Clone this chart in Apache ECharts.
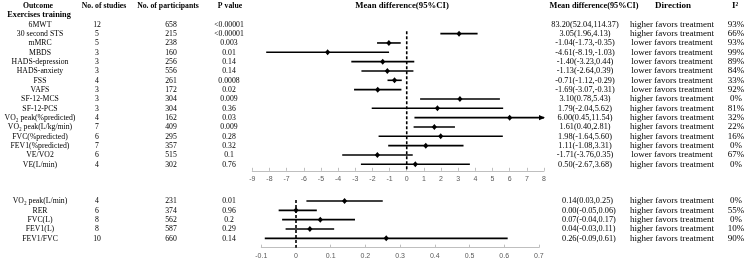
<!DOCTYPE html>
<html><head><meta charset="utf-8">
<script src="https://cdn.jsdelivr.net/npm/echarts@6/dist/echarts.min.js"></script>
<style>html,body{margin:0;padding:0;background:#fff}#c{width:747px;height:261px}</style>
</head><body><div id="c"></div>
<script>
// ---------- DATA ----------
const headers = ['Outcome','No. of studies','No. of participants','P value','Mean difference(95%CI)','Mean difference(95%CI)','Direction','I²'];
const sectionTitle = 'Exercises training';

const outcomesTop = ['6MWT','30 second STS','mMRC','MBDS','HADS-depression','HADS-anxiety','FSS','VAFS','SF-12-MCS','SF-12-PCS','VO₂ peak(%predicted)','VO₂ peak(L/kg/min)','FVC(%predicted)','FEV1(%predicted)','VE/VO2','VE(L/min)'];
const studiesTop = [12,5,5,3,3,3,4,3,3,3,4,7,6,7,6,4];
const participantsTop = [658,215,238,160,256,556,261,172,304,304,162,409,295,357,515,302];
const pTop = ['<0.00001','<0.00001','0.003','0.01','0.14','0.14','0.0008','0.02','0.009','0.36','0.03','0.009','0.28','0.32','0.1','0.76'];
const mdTop = [83.20,3.05,-1.04,-4.61,-1.40,-1.13,-0.71,-1.69,3.10,1.79,6.00,1.61,1.98,1.11,-1.71,0.50];
const loTop = [52.04,1.96,-1.73,-8.19,-3.23,-2.64,-1.12,-3.07,0.78,-2.04,0.45,0.40,-1.64,-1.08,-3.76,-2.67];
const hiTop = [114.37,4.13,-0.35,-1.03,0.44,0.39,-0.29,-0.31,5.43,5.62,11.54,2.81,5.60,3.31,0.35,3.68];
const directionTop = ['higher','higher','lower','lower','lower','lower','lower','lower','higher','higher','higher','higher','higher','higher','lower','higher'];
const i2Top = ['93%','66%','93%','99%','89%','84%','33%','92%','0%','81%','32%','22%','16%','0%','67%','0%'];
const ticksTop = {min:-9, max:8, interval:1};

const outcomesBottom = ['VO₂ peak(L/min)','RER','FVC(L)','FEV1(L)','FEV1/FVC'];
const studiesBottom = [4,6,8,8,10];
const participantsBottom = [231,374,562,587,660];
const pBottom = ['0.01','0.96','0.2','0.29','0.14'];
const mdBottom = [0.14,0.00,0.07,0.04,0.26];
const loBottom = [0.03,-0.05,-0.04,-0.03,-0.09];
const hiBottom = [0.25,0.06,0.17,0.11,0.61];
const directionBottom = ['higher','higher','higher','higher','higher'];
const i2Bottom = ['0%','55%','0%','10%','90%'];
const ticksBottom = {min:-0.1, max:0.7, interval:0.1};

// ---------- LAYOUT ----------
const FONT = '"Liberation Serif","Times New Roman",serif';
const FS = 9;
const SL = 0.86;   // horizontal squeeze of the left table text
const SR = 0.92;   // horizontal squeeze of the right mean-difference text
const col = {outcome:40, studies:97, participants:171, p:229, mdTop:585, mdBottom:562, dir:672, i2:736};
const hdrX = [38,104,168,230,402,594,673,735];
const hdrS = [SL,SL,SL,SL,0.97,SR,1,1];

const fmt = v => v.toFixed(2);
const ciText = (m,l,h) => fmt(m)+'('+fmt(l)+','+fmt(h)+')';
const dirText = d => d + ' favors treatment';

function tableItems(outcomes, studies, parts, ps, md, lo, hi, dirs, i2s, mdX, mdAlign) {
  const items = [];
  outcomes.forEach((o,i) => {
    items.push([col.outcome, i, o, false, 'center', SL]);
    items.push([col.studies, i, String(studies[i]), false, 'center', SL]);
    items.push([col.participants, i, String(parts[i]), false, 'center', SL]);
    items.push([col.p, i, ps[i], false, 'center', SL]);
    items.push([mdX, i, ciText(md[i],lo[i],hi[i]), false, mdAlign, SR]);
    items.push([col.dir, i, dirText(dirs[i]), false, 'center', 1]);
    items.push([col.i2, i, i2s[i], false, 'center', 1]);
  });
  return items;
}
const topItems = tableItems(outcomesTop, studiesTop, participantsTop, pTop, mdTop, loTop, hiTop, directionTop, i2Top, col.mdTop, 'center');
headers.forEach((h,k) => topItems.push([hdrX[k], -2, h, true, 'center', hdrS[k]]));
topItems.push([39, -1, sectionTitle, true, 'center', 0.92]);
const bottomItems = tableItems(outcomesBottom, studiesBottom, participantsBottom, pBottom, mdBottom, loBottom, hiBottom, directionBottom, i2Bottom, col.mdBottom, 'left');

function textSeries(items, axisIdx) {
  return {
    type:'custom', xAxisIndex:axisIdx, yAxisIndex:axisIdx, silent:true, clip:false,
    data: items.map(it => [it[0], it[1]]),
    renderItem: (params, api) => {
      const it = items[params.dataIndex];
      const p = api.coord([api.value(0), api.value(1)]);
      return {type:'text', x:p[0], y:p[1], scaleX: it[5] || 1, style:{
        text: it[2], fill:'#000', fontFamily: FONT, fontSize: FS,
        fontWeight: it[3] ? 'bold' : 'normal', align: it[4], verticalAlign:'middle'
      }};
    }
  };
}

function forestSeries(md, lo, hi, axisIdx) {
  return {
    type:'custom', xAxisIndex:axisIdx, yAxisIndex:axisIdx, silent:true, clip:false,
    data: md.map((m,i) => [m, lo[i], hi[i], i]),
    encode:{x:[0,1,2], y:3},
    renderItem: (params, api) => {
      const cs = params.coordSys;
      const row = api.value(3);
      const pm = api.coord([api.value(0), row]);
      const pl = api.coord([api.value(1), row]);
      const ph = api.coord([api.value(2), row]);
      const x0 = cs.x, x1 = cs.x + cs.width, y = pm[1];
      if (pl[0] > x1 || ph[0] < x0) return null;
      const a = Math.max(pl[0], x0), b = Math.min(ph[0], x1);
      const ch = [{type:'line', shape:{x1:a,y1:y,x2:b,y2:y}, style:{stroke:'#000', lineWidth:1.6}}];
      if (ph[0] > x1) ch.push({type:'polygon', shape:{points:[[x1+1,y],[x1-5,y-2.6],[x1-5,y+2.6]]}, style:{fill:'#000'}});
      if (pm[0] >= x0 && pm[0] <= x1) ch.push({type:'polygon', shape:{points:[[pm[0],y-3],[pm[0]+2.6,y],[pm[0],y+3],[pm[0]-2.6,y]]}, style:{fill:'#000'}});
      return {type:'group', children:ch};
    }
  };
}

function zeroLine(y0, y1, axisIdx) {
  return {type:'line', xAxisIndex:axisIdx, yAxisIndex:axisIdx, silent:true, symbol:'none',
    data:[[0,y0],[0,y1]], lineStyle:{color:'#000', width:1.6, type:[3,2]}};
}

const rowH = 9.333;
const topY0 = 24.3, topMin = -2.6, topMax = 15.7;
const botY0 = 201, botMin = -1, botMax = 5;
const gTop = {top: topY0 + topMin*rowH, height: (topMax-topMin)*rowH};
const gBot = {top: botY0 + botMin*rowH, height: (botMax-botMin)*rowH};

const hiddenX = {type:'value', min:0, max:747, show:false};
function hiddenY(mn, mx) { return {type:'value', min:mn, max:mx, inverse:true, show:false}; }
function plotX(t, gi) {
  return {type:'value', gridIndex:gi, min:t.min, max:t.max, interval:t.interval, splitLine:{show:false},
    axisLine:{show:true, onZero:false, lineStyle:{color:'#bfbfbf', width:1}},
    axisTick:{show:true, inside:true, length:3, lineStyle:{color:'#bfbfbf'}},
    axisLabel:{color:'#595959', fontSize:7, fontFamily:'"Liberation Sans",Arial,sans-serif', margin:5}};
}

const option = {
  animation:false,
  backgroundColor:'#fff',
  grid:[
    {left:0, width:747, top:gTop.top, height:gTop.height},
    {left:252.3, width:291.7, top:gTop.top, height:gTop.height},
    {left:0, width:747, top:gBot.top, height:gBot.height},
    {left:261.3, width:277.6, top:gBot.top, height:gBot.height}
  ],
  xAxis:[
    Object.assign({gridIndex:0}, hiddenX),
    plotX(ticksTop, 1),
    Object.assign({gridIndex:2}, hiddenX),
    plotX(ticksBottom, 3)
  ],
  yAxis:[
    Object.assign({gridIndex:0}, hiddenY(topMin, topMax)),
    Object.assign({gridIndex:1}, hiddenY(topMin, topMax)),
    Object.assign({gridIndex:2}, hiddenY(botMin, botMax)),
    Object.assign({gridIndex:3}, hiddenY(botMin, botMax))
  ],
  series:[
    textSeries(topItems, 0),
    textSeries(bottomItems, 2),
    zeroLine(0.75, topMax, 1),
    zeroLine(-0.1, botMax, 3),
    forestSeries(mdTop, loTop, hiTop, 1),
    forestSeries(mdBottom, loBottom, hiBottom, 3)
  ]
};
const chart = echarts.init(document.getElementById('c'));
chart.setOption(option);
</script>
</body></html>
